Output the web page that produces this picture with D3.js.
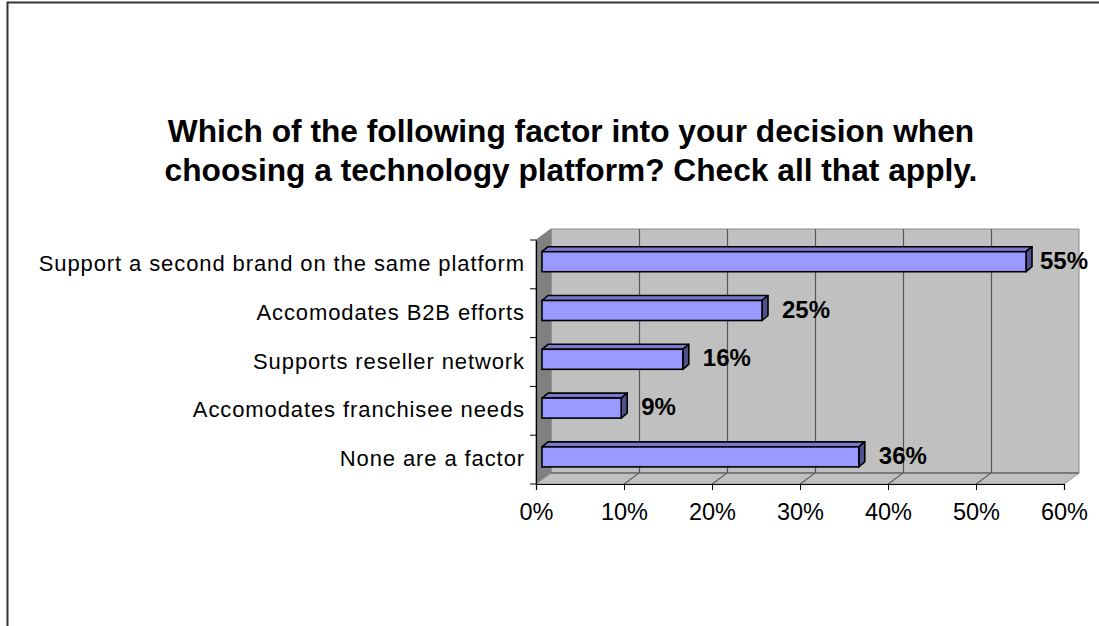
<!DOCTYPE html>
<html>
<head>
<meta charset="utf-8">
<script src="https://cdn.jsdelivr.net/npm/d3@7"></script>
<style>
  html, body { margin: 0; padding: 0; background: #ffffff; }
  svg { display: block; }
  text { font-family: "Liberation Sans", Arial, sans-serif; }
</style>
</head>
<body>
<div id="chart"></div>
<script>
// ---------------------------------
// data
// ---------------------------------
var categories = [
  "Support a second brand on the same platform",
  "Accomodates B2B efforts",
  "Supports reseller network",
  "Accomodates franchisee needs",
  "None are a factor"
];
var values = [55, 25, 16, 9, 36];
var tickValues = [0, 10, 20, 30, 40, 50, 60];
var titleLines = [
  "Which of the following factor into your decision when",
  "choosing a technology platform? Check all that apply."
];

// ---------------------------------
// layout
// ---------------------------------
var W = 1099, H = 626;
var depthX = 15, depthY = -11;      // 3d depth of the plot box
var barDX = 6, barDY = -5;          // depth of a single bar
var barH = 20;

var svg = d3.select("#chart").append("svg")
  .attr("width", W)
  .attr("height", H);

// outer chart frame (runs off the page on right / bottom)
svg.append("rect")
  .attr("x", 7.5).attr("y", 2.5)
  .attr("width", W + 50).attr("height", H + 50)
  .attr("fill", "none")
  .attr("stroke", "#333333")
  .attr("stroke-width", 2);

var x = d3.scaleLinear().domain([0, 60]).range([536, 1064]);
var y = d3.scaleBand().domain(categories).range([240, 484]);

var x0 = x(0), x1 = x(60), yTop = y.range()[0], yBot = y.range()[1];

// title
svg.append("g").selectAll("text")
  .data(titleLines)
  .join("text")
  .attr("x", 571)
  .attr("y", function(d, i){ return 142 + i * 39; })
  .attr("text-anchor", "middle")
  .attr("font-size", "31.7px")
  .attr("font-weight", "bold")
  .attr("fill", "#000")
  .text(function(d){ return d; });

// --------------------------------------------------
// 3d box: back wall, left wall, floor
// --------------------------------------------------
var box = svg.append("g");

// back wall
box.append("path")
  .attr("d", "M" + (x0 + depthX) + "," + (yTop + depthY) +
             " H" + (x1 + depthX) + " V" + (yBot + depthY) +
             " H" + (x0 + depthX) + " Z")
  .attr("fill", "#c0c0c0")
  .attr("stroke", "#8c8c8c")
  .attr("stroke-width", 1);

// left side wall
box.append("path")
  .attr("d", "M" + x0 + "," + yTop +
             " L" + (x0 + depthX) + "," + (yTop + depthY) +
             " V" + (yBot + depthY) +
             " L" + x0 + "," + yBot + " Z")
  .attr("fill", "#808080")
  .attr("stroke", "#808080")
  .attr("stroke-width", 1);

// floor
box.append("path")
  .attr("d", "M" + x0 + "," + yBot +
             " L" + (x0 + depthX) + "," + (yBot + depthY) +
             " H" + (x1 + depthX) +
             " L" + x1 + "," + yBot + " Z")
  .attr("fill", "#c0c0c0")
  .attr("stroke", "#8c8c8c")
  .attr("stroke-width", 1);

// gridlines on back wall and their continuation on the floor
var grid = box.append("g");
grid.selectAll("line.gv")
  .data(tickValues.slice(1, -1))
  .join("line")
  .attr("class", "gv")
  .attr("x1", function(d){ return Math.round(x(d) + depthX) + 0.5; })
  .attr("x2", function(d){ return Math.round(x(d) + depthX) + 0.5; })
  .attr("y1", yTop + depthY)
  .attr("y2", yBot + depthY)
  .attr("stroke", "#555555")
  .attr("stroke-width", 1.2);
grid.selectAll("line.gf")
  .data(tickValues.slice(1, -1))
  .join("line")
  .attr("class", "gf")
  .attr("x1", function(d){ return x(d); })
  .attr("x2", function(d){ return x(d) + depthX; })
  .attr("y1", yBot)
  .attr("y2", yBot + depthY)
  .attr("stroke", "#333333")
  .attr("stroke-width", 1);
grid.append("line")
  .attr("x1", x0 + depthX).attr("x2", x1 + depthX)
  .attr("y1", yBot + depthY).attr("y2", yBot + depthY)
  .attr("stroke", "#555555")
  .attr("stroke-width", 1.2);

// --------------------------------------------------
// bars (front face, top face, end face)
// --------------------------------------------------
var bars = svg.append("g").selectAll("g.bar")
  .data(categories.map(function(c, i){ return { cat: c, val: values[i] }; }))
  .join("g")
  .attr("class", "bar");

function barTop(d){ return y(d.cat) + y.bandwidth() / 2 - 2.7 - barH / 2; }
function bx0(){ return x(0) + barDX; }
function bx1(d){ return x(d.val) + barDX; }

bars.append("path")   // top face
  .attr("d", function(d){
    var t = barTop(d);
    return "M" + bx0() + "," + t +
           " L" + (bx0() + barDX) + "," + (t + barDY) +
           " H" + (bx1(d) + barDX) +
           " L" + bx1(d) + "," + t + " Z";
  })
  .attr("fill", "#7878cc")
  .attr("stroke", "#000")
  .attr("stroke-width", 1.6)
  .attr("stroke-linejoin", "round");

bars.append("path")   // end face
  .attr("d", function(d){
    var t = barTop(d);
    return "M" + bx1(d) + "," + t +
           " L" + (bx1(d) + barDX) + "," + (t + barDY) +
           " V" + (t + barDY + barH) +
           " L" + bx1(d) + "," + (t + barH) + " Z";
  })
  .attr("fill", "#50508f")
  .attr("stroke", "#000")
  .attr("stroke-width", 1.6)
  .attr("stroke-linejoin", "round");

bars.append("rect")   // front face
  .attr("x", bx0())
  .attr("y", barTop)
  .attr("width", function(d){ return bx1(d) - bx0(); })
  .attr("height", barH)
  .attr("fill", "#9999ff")
  .attr("stroke", "#000")
  .attr("stroke-width", 1.6);

// value labels
bars.append("text")
  .attr("x", function(d){ return Math.min(bx1(d) + barDX + 14, 1040); })
  .attr("y", function(d){ return barTop(d) + barH / 2 + 7; })
  .attr("font-size", "24px")
  .attr("font-weight", "bold")
  .attr("fill", "#000")
  .text(function(d){ return d.val + "%"; });

// --------------------------------------------------
// axes
// --------------------------------------------------
var xAxis = svg.append("g")
  .attr("transform", "translate(0," + yBot + ")")
  .call(d3.axisBottom(x).tickValues(tickValues)
    .tickFormat(function(d){ return d + "%"; })
    .tickSize(6).tickPadding(13));
xAxis.select(".domain").attr("stroke", "#000").attr("stroke-width", 1.2);
xAxis.selectAll(".tick line").attr("stroke", "#000");
xAxis.selectAll(".tick text")
  .attr("font-family", "Liberation Sans, Arial, sans-serif")
  .attr("font-size", "23.5px")
  .attr("fill", "#000");

var yAxis = svg.append("g")
  .attr("transform", "translate(" + x0 + ",0)")
  .call(d3.axisLeft(y).tickSize(0).tickPadding(11));
yAxis.select(".domain").attr("stroke", "#000").attr("stroke-width", 1.2);
yAxis.selectAll(".tick text")
  .attr("font-family", "Liberation Sans, Arial, sans-serif")
  .attr("font-size", "22px")
  .attr("letter-spacing", "0.9px")
  .attr("dy", "0.3em")
  .attr("fill", "#000");

// category separator ticks on the left axis
svg.append("g").selectAll("line")
  .data(d3.range(categories.length + 1))
  .join("line")
  .attr("x1", x0 - 6).attr("x2", x0)
  .attr("y1", function(i){ return yTop + i * y.step(); })
  .attr("y2", function(i){ return yTop + i * y.step(); })
  .attr("stroke", "#000")
  .attr("stroke-width", 1);
</script>
</body>
</html>
